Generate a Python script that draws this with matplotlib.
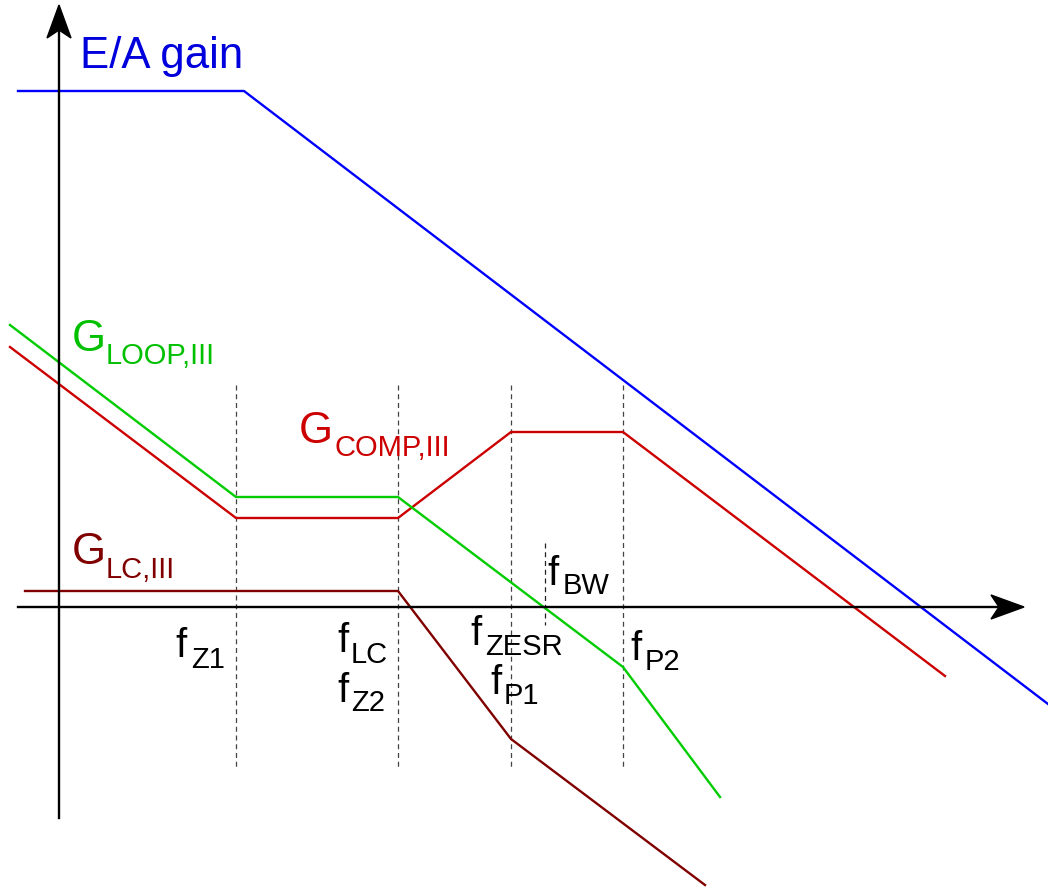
import numpy as np
import matplotlib.pyplot as plt
from matplotlib.patches import Polygon

plt.rcParams['font.family'] = ['Liberation Sans', 'DejaVu Sans']

# asymptotic bode sketch, coordinates in drawing units (x right, y down)
ea_x = [18, 244, 1048]
ea_y = [91, 91, 704]
loop_x = [10, 236, 398, 623, 720]
loop_y = [325, 497, 497, 667, 797]
comp_x = [10, 236, 398, 511, 623, 945]
comp_y = [347, 518, 518, 432, 432, 676]
lc_x = [25, 398, 511, 705]
lc_y = [591, 591, 739, 885]

# corner frequencies (dashed markers)
corner_x = [236, 398, 511, 623]
corner_top, corner_bot = 385, 770
fbw_x = 545
fbw_top, fbw_bot = 543, 625

# axes
x_axis_y = 607
y_axis_x = 59

BLUE = '#0000ff'
GREEN = '#00cc00'
RED = '#cc0000'
DARKRED = '#800000'

fig = plt.figure(figsize=(10.48, 8.89), dpi=100)
ax = fig.add_axes([0, 0, 1, 1])
ax.set_xlim(0, 1048)
ax.set_ylim(889, 0)
ax.axis('off')


def arrow_head(tip, direction, length=33, half=12, notch=8):
    d = np.array(direction, float)
    d /= np.linalg.norm(d)
    n = np.array([-d[1], d[0]])
    tip = np.array(tip, float)
    base = tip - d * length
    pts = [tip, base + n * half, base + d * notch, base - n * half]
    ax.add_patch(Polygon(pts, closed=True, color='black', zorder=5))


# axis lines
ax.plot([y_axis_x, y_axis_x], [818, 25], color='black', lw=1.7, zorder=4)
ax.plot([18, 1005], [x_axis_y, x_axis_y], color='black', lw=1.7, zorder=4)
arrow_head((y_axis_x, 5), (0, -1))
arrow_head((1024, x_axis_y), (1, 0))

# dashed corner lines
for cx in corner_x:
    ax.plot([cx, cx], [corner_top, corner_bot], color='#444444', lw=0.9,
            ls=(0, (4, 3)), zorder=1)
ax.plot([fbw_x, fbw_x], [fbw_top, fbw_bot], color='#222222', lw=0.9,
        ls=(0, (4, 3)), zorder=1)

# curves
ax.plot(ea_x, ea_y, color=BLUE, lw=1.7, zorder=3)
ax.plot(comp_x, comp_y, color=RED, lw=1.7, zorder=3)
ax.plot(loop_x, loop_y, color=GREEN, lw=1.7, zorder=3)
ax.plot(lc_x, lc_y, color=DARKRED, lw=1.7, zorder=3)


def label(x, y, main, sub, xs, ys, color, size=31.5, subsize=21):
    ax.text(x, y, main, color=color, fontsize=size, ha='left', va='baseline')
    if sub:
        ax.text(xs, ys, sub, color=color, fontsize=subsize, ha='left',
                va='baseline')


label(80, 68, 'E/A gain', None, 0, 0, '#0000dd')
label(72, 351, 'G', 'LOOP,III', 106, 364, '#00c000')
label(299, 443, 'G', 'COMP,III', 334, 456, RED)
label(72, 564, 'G', 'LC,III', 106, 578, DARKRED)

label(175, 657, 'f', 'Z1', 191, 668, 'black', size=29)
label(337, 652, 'f', 'LC', 351, 663, 'black', size=29)
label(337, 702, 'f', 'Z2', 351, 711, 'black', size=29)
label(470, 645, 'f', 'ZESR', 485, 655, 'black', size=29)
label(490, 694, 'f', 'P1', 504, 704, 'black', size=29)
label(547, 585, 'f', 'BW', 563, 594, 'black', size=29)
label(630, 660, 'f', 'P2', 645, 670, 'black', size=29)

fig.savefig('out.png', dpi=100)
